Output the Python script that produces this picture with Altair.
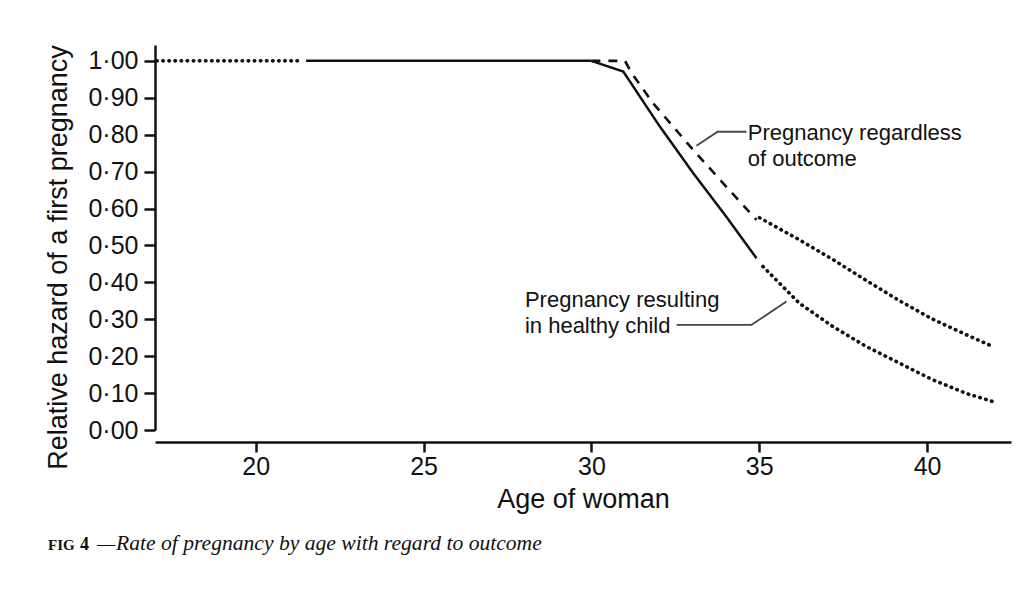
import altair as alt
import pandas as pd

# ---- data (age of woman, relative hazard) ----
flat_dot_age = [17.05, 21.3]
flat_dot_val = [1.0, 1.0]
flat_solid_age = [21.5, 30.0]
flat_solid_val = [1.0, 1.0]

healthy_solid_age = [30.0, 30.95, 32.04, 33.03, 34.02, 34.92]
healthy_solid_val = [1.0, 0.971, 0.822, 0.696, 0.578, 0.465]
healthy_dot_age = [35.11, 36.2, 37.2, 38.19, 39.18, 40.17, 41.17, 41.96]
healthy_dot_val = [0.443, 0.343, 0.280, 0.226, 0.181, 0.136, 0.099, 0.077]

regard_dash_age = [30.0, 31.0, 31.2, 31.84, 33.03, 34.0, 34.92]
regard_dash_val = [1.0, 1.0, 0.967, 0.885, 0.759, 0.661, 0.569]
regard_dot_age = [35.01, 36.2, 37.19, 38.19, 39.18, 40.17, 41.17, 41.96]
regard_dot_val = [0.575, 0.515, 0.462, 0.405, 0.350, 0.300, 0.258, 0.226]

lead1_age = [33.13, 33.76, 34.62]
lead1_val = [0.770, 0.808, 0.808]
lead2_age = [32.54, 34.77, 35.81]
lead2_val = [0.285, 0.285, 0.348]

ann_label = ["Pregnancy regardless", "of outcome", "Pregnancy resulting", "in healthy child"]
ann_age = [34.66, 34.66, 28.02, 28.02]
ann_val = [0.786, 0.714, 0.334, 0.263]

y_ticks = [0.0, 0.1, 0.2, 0.3, 0.4, 0.5, 0.6, 0.7, 0.8, 0.9, 1.0]
x_ticks = [20, 25, 30, 35, 40]

caption_small = "FIG"
caption_num = "4"
caption_dash = "\u2014"
caption_text = "Rate of pregnancy by age with regard to outcome"

# ---- build table ----
rows = []
def add(ages, vals, seg, style):
    for a, v in zip(ages, vals):
        rows.append({"age": a, "value": v, "seg": seg, "style": style})

add(flat_dot_age, flat_dot_val, "flat_dot", "dotted")
add(flat_solid_age, flat_solid_val, "flat_solid", "solid")
add(healthy_solid_age, healthy_solid_val, "healthy_solid", "solid")
add(healthy_dot_age, healthy_dot_val, "healthy_dot", "dotted")
add(regard_dash_age, regard_dash_val, "regard_dash", "dashed")
add(regard_dot_age, regard_dot_val, "regard_dot", "dotted")
add(lead1_age, lead1_val, "lead1", "leader")
add(lead2_age, lead2_val, "lead2", "leader")
df = pd.DataFrame(rows)

ann_df = pd.DataFrame({"age": ann_age, "value": ann_val, "label": ann_label})

FONT = "Liberation Sans"
SERIF = "Liberation Serif"
INK = "#111111"

x_enc = alt.X(
    "age:Q",
    scale=alt.Scale(domain=[17.0, 42.5], nice=False, zero=False),
    axis=alt.Axis(
        values=x_ticks, format="d", title="Age of woman", grid=False,
        offset=12, tickSize=10, tickWidth=2.5, domainWidth=2.5,
        domainColor=INK, tickColor=INK, labelColor=INK, titleColor=INK,
        labelFont=FONT, labelFontSize=25, labelPadding=2, labelOverlap=False,
        titleFont=FONT, titleFontSize=27, titleFontWeight="normal", titlePadding=7,
    ),
)
y_enc = alt.Y(
    "value:Q",
    scale=alt.Scale(domain=[0.0, 1.043], nice=False, zero=True),
    axis=alt.Axis(
        values=y_ticks, grid=False, labelOverlap=False,
        labelExpr="replace(format(datum.value, '.2f'), '.', '\u00b7')",
        title="Relative hazard of a first pregnancy",
        tickSize=11, tickWidth=2.5, domainWidth=2.5,
        domainColor=INK, tickColor=INK, labelColor=INK, titleColor=INK,
        labelFont=FONT, labelFontSize=25, labelPadding=6,
        titleFont=FONT, titleFontSize=27, titleFontWeight="normal",
        titleAngle=270, titleAlign="center", titleBaseline="alphabetic",
        titleX=-89, titleY=212,
    ),
)

base = alt.Chart(df).encode(x=x_enc, y=y_enc, detail="seg:N", order="age:Q")

solid = base.transform_filter(alt.datum.style == "solid").mark_line(
    color=INK, strokeWidth=2.5)
dashed = base.transform_filter(alt.datum.style == "dashed").mark_line(
    color=INK, strokeWidth=2.6, strokeDash=[9, 8])
dotted = base.transform_filter(alt.datum.style == "dotted").mark_line(
    color=INK, strokeWidth=3.6, strokeDash=[0.5, 5.6], strokeCap="round")
leader = base.transform_filter(alt.datum.style == "leader").mark_line(
    color="#444444", strokeWidth=1.8)

ann = alt.Chart(ann_df).mark_text(
    align="left", baseline="alphabetic", font=FONT, fontSize=22, color=INK
).encode(x=x_enc, y=y_enc, text="label:N")

def cap(txt, xpos, size, style="normal", weight="normal"):
    return alt.Chart(pd.DataFrame({"t": [txt]})).mark_text(
        align="left", baseline="alphabetic", font=SERIF, fontSize=size,
        fontStyle=style, fontWeight=weight, color=INK
    ).encode(text="t:N", x=alt.value(xpos), y=alt.value(505))

cap1 = cap(caption_small, -107, 15, weight="bold")
cap2 = cap(caption_num, -75, 18, weight="bold")
cap3 = cap(caption_dash, -58, 18)
cap4 = cap(caption_text, -39, 21.6, style="italic")

chart = alt.layer(solid, dashed, dotted, leader, ann, cap1, cap2, cap3, cap4).properties(
    width=856, height=385,
    autosize=alt.AutoSizeParams(type="none"),
    padding={"left": 147, "top": 37, "right": 5, "bottom": 150},
    background="white",
).configure_view(stroke=None)

chart.save("out.html", embed_options={"renderer": "svg", "actions": False})
